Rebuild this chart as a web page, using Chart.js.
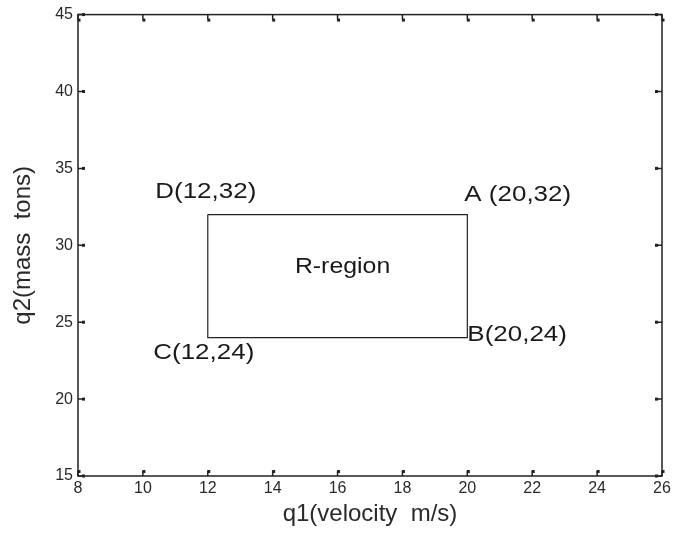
<!DOCTYPE html>
<html>
<head>
<meta charset="utf-8">
<script src="https://cdn.jsdelivr.net/npm/chart.js@4"></script>
<style>
  html, body { margin: 0; padding: 0; background: #fff; }
  #wrap { width: 686px; height: 533px; }
</style>
</head>
<body>
<div id="wrap"><canvas id="chart"></canvas></div>
<script>
// region corners (closed outline)
const rectX = [12, 20, 20, 12, 12];
const rectY = [32, 32, 24, 24, 32];
// corner names, same order as the first four points
const cornerNames = ["D(12,32)", "A (20,32)", "B(20,24)", "C(12,24)"];
const regionName = "R-region";
const regionCenter = [16, 28];

// axis limits / steps
const xRange = [8, 26, 2];
const yRange = [15, 45, 5];

const points = rectX.map((x, i) => ({ x: x, y: rectY[i] }));

const FONT = "'Liberation Sans', Arial, sans-serif";

// pixel offsets + alignment for the corner text
const labelStyle = [
  { dx: -2, dy: -23, align: "center" },
  { dx: -3, dy: -20, align: "left" },
  { dx: 0, dy: -3, align: "left" },
  { dx: -4, dy: 15, align: "center" },
];

function stretchedText(ctx, text, x, y, align, sx) {
  const w = ctx.measureText(text).width * sx;
  let left = x;
  if (align === "center") left = x - w / 2;
  ctx.save();
  ctx.translate(left, y);
  ctx.scale(sx, 1);
  ctx.textAlign = "left";
  ctx.fillText(text, 0, 0);
  ctx.restore();
}

const frameAndLabels = {
  id: "frameAndLabels",
  afterDraw(chart) {
    const ctx = chart.ctx;
    const a = chart.chartArea;
    const xs = chart.scales.x, ys = chart.scales.y;
    ctx.save();
    ctx.strokeStyle = "#222";
    ctx.fillStyle = "#222";
    ctx.lineWidth = 1.5;
    ctx.strokeRect(a.left, a.top, a.right - a.left, a.bottom - a.top);

    // inward ticks on all four sides
    const len = 5;
    xs.ticks.forEach(t => {
      const px = xs.getPixelForValue(t.value);
      ctx.beginPath();
      ctx.moveTo(px, a.bottom); ctx.lineTo(px, a.bottom - len);
      ctx.moveTo(px, a.top); ctx.lineTo(px, a.top + len);
      ctx.stroke();
      ctx.fillRect(px - 0.5, a.bottom - len - 1, 3, 3);
      ctx.fillRect(px - 0.5, a.top + len - 1, 3, 3);
    });
    ys.ticks.forEach(t => {
      const py = ys.getPixelForValue(t.value);
      ctx.beginPath();
      ctx.moveTo(a.left, py); ctx.lineTo(a.left + len, py);
      ctx.moveTo(a.right, py); ctx.lineTo(a.right - len, py);
      ctx.stroke();
      ctx.fillRect(a.left + len - 1, py - 1.5, 3, 3);
      ctx.fillRect(a.right - len - 2, py - 1.5, 3, 3);
    });

    // corner and region labels
    ctx.fillStyle = "#1a1a1a";
    ctx.font = "22px " + FONT;
    ctx.textBaseline = "middle";
    cornerNames.forEach((name, i) => {
      const s = labelStyle[i];
      stretchedText(ctx, name, xs.getPixelForValue(rectX[i]) + s.dx,
        ys.getPixelForValue(rectY[i]) + s.dy, s.align, 1.18);
    });
    stretchedText(ctx, regionName, xs.getPixelForValue(regionCenter[0]) + 5,
      ys.getPixelForValue(regionCenter[1]) - 9, "center", 1.13);
    ctx.restore();
  }
};

const canvasEl = document.getElementById("chart");
const config = {
  type: "scatter",
  data: {
    datasets: [
      {
        label: regionName,
        data: points,
        showLine: true,
        borderColor: "#222",
        borderWidth: 1.2,
        pointRadius: 0,
        fill: false,
        tension: 0,
      },
    ],
  },
  options: {
    responsive: true,
    maintainAspectRatio: false,
    animation: false,
    layout: { padding: { left: 0, right: 24, top: 14, bottom: 0 } },
    plugins: { legend: { display: false }, tooltip: { enabled: false } },
    scales: {
      x: {
        type: "linear",
        min: xRange[0],
        max: xRange[1],
        ticks: { stepSize: xRange[2], color: "#2a2a2a", padding: 3, maxRotation: 0,
          font: { family: FONT, size: 16 } },
        grid: { display: false, drawTicks: false },
        border: { display: false },
        title: { display: true, text: "q1(velocity  m/s)", color: "#2a2a2a",
          font: { family: FONT, size: 24 }, padding: { top: 6 } },
        afterFit(scale) { scale.height = 57; },
      },
      y: {
        type: "linear",
        min: yRange[0],
        max: yRange[1],
        ticks: { stepSize: yRange[2], color: "#2a2a2a", padding: 5,
          font: { family: FONT, size: 16 } },
        grid: { display: false, drawTicks: false },
        border: { display: false },
        title: { display: true, text: "q2(mass  tons)", color: "#2a2a2a",
          font: { family: FONT, size: 24 }, padding: { top: 9, bottom: 0 } },
        afterFit(scale) { scale.width = 78; },
      },
    },
  },
  plugins: [frameAndLabels],
};
const regionChart = new Chart(canvasEl, config);
</script>
</body>
</html>
